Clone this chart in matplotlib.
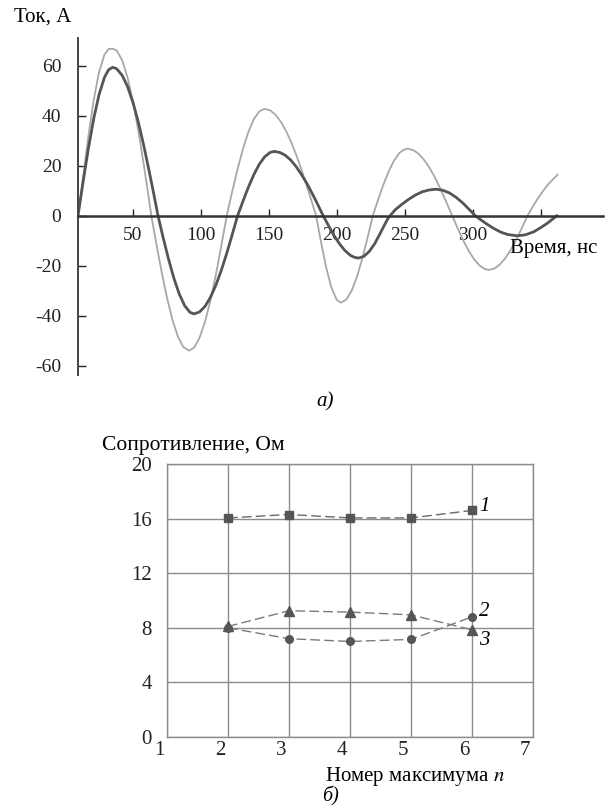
import numpy as np
import matplotlib
matplotlib.use('Agg')
import matplotlib.pyplot as plt
import matplotlib.transforms as mtransforms

plt.rcParams['font.family'] = ['Liberation Serif', 'DejaVu Serif']
plt.rcParams['mathtext.fontset'] = 'stix'
plt.rcParams['axes.unicode_minus'] = False

# --- panel a): current vs time (values read off the picture) ---
t_dark = [9.5, 13, 17, 21, 25, 29, 32, 35, 38, 42, 46, 50, 54, 58, 62, 65, 68.4,
          72, 76, 80, 84, 88, 92, 95, 99, 103, 107, 111, 115, 119, 123, 127,
          131, 135, 139, 143, 147, 151, 154, 158, 162, 166, 170, 174, 178, 182, 186, 190,
          194, 198, 202, 206, 210, 213, 216, 220, 224, 228, 232, 235, 238,
          243, 248, 253, 258, 263, 268, 273, 278, 283, 288, 293, 297, 302,
          306, 311, 316, 321, 326, 333, 339, 345, 350, 355, 359, 362]
i_dark = [0, 12.7, 26.4, 38.6, 48.4, 55.3, 58.3, 59.3, 58.7, 56.1, 51.6, 45.2, 37.2, 27.8, 17.5, 9.5, 0,
          -8.3, -17, -24.8, -31.2, -35.9, -38.6, -39.2, -38.4, -36.2, -32.6, -27.7, -21.8, -15, -7.6, 0,
          5.9, 11.5, 16.5, 20.6, 23.6, 25.3, 25.7, 25.3, 24.2, 22.3, 19.7, 16.5, 12.9, 8.8, 4.5, 0,
          -4, -7.9, -11.2, -13.9, -15.8, -16.6, -16.9, -16.2, -14.2, -11.1, -7, -3.8, -0.8,
          2.4, 4.6, 6.6, 8.3, 9.6, 10.3, 10.6, 10.2, 9.1, 7.3, 5, 2.8, 0,
          -1.6, -3.5, -5.2, -6.6, -7.5, -8, -7.6, -6.4, -4.8, -3, -1.3, 0]

t_light = [9.5, 13, 17, 21, 25, 29, 32, 35.3, 38, 42, 46, 50, 54, 58, 61, 63.5,
           67, 71, 75, 79, 83, 87, 91.2, 95, 99, 103, 107, 111, 115, 119,
           123, 127, 131, 135, 139, 143, 146.8, 151, 155, 159, 163, 167, 171, 175, 179, 182, 184.8,
           188, 192, 196, 200, 203, 207, 211, 215, 219, 223, 226.5,
           230, 234, 238, 242, 246, 249, 252, 256, 260, 264, 268, 272, 276, 280, 285,
           289, 293, 297, 301, 305, 309, 312, 316, 320, 324, 328, 332, 336, 340.4,
           344, 348, 352, 356, 360, 362.5]
i_light = [0, 14.1, 31.2, 46, 57.4, 64.4, 66.6, 66.7, 66, 62.1, 55.2, 45.6, 33.7, 20.1, 9.3, 0,
           -10.6, -22.3, -32.7, -41.5, -48.2, -52.4, -53.9, -52.7, -48.7, -42.4, -33.8, -23.6, -12, 0,
           9.6, 18.7, 26.8, 33.6, 38.6, 41.7, 42.7, 42.1, 40.3, 37.4, 33.5, 28.7, 23.1, 16.8, 10.1, 4.9, 0,
           -9.4, -20.2, -28.6, -33.6, -34.7, -33.5, -29.9, -24.2, -16.7, -8, 0,
           5.7, 12, 17.4, 21.9, 25, 26.3, 26.8, 26.3, 24.9, 22.5, 19.4, 15.6, 11.1, 6.3, 0,
           -5, -9.7, -13.9, -17.3, -19.8, -21.3, -21.6, -21.1, -19.5, -17, -13.7, -9.7, -5.2, 0,
           3.4, 6.9, 10, 12.8, 15, 16.4]

t_ticks = [50, 100, 150, 200, 250, 300, 350]
t_labels = ['50', '100', '150', '200', '250', '300', '']
i_ticks = [-60, -40, -20, 0, 20, 40, 60]

# --- panel б): resistance vs maximum number ---
n = [2, 3, 4, 5, 6]
r1 = [16.05, 16.3, 16.05, 16.05, 16.6]
r2 = [8.0, 7.2, 7.0, 7.15, 8.8]
r3 = [8.1, 9.25, 9.15, 8.95, 7.85]

fig = plt.figure(figsize=(6.16, 8.05), dpi=100)

ax = fig.add_axes([78/616, 1 - 375/805, (603 - 78)/616, (375 - 38)/805])
ax.plot(t_light, i_light, color='#a8a8a8', lw=1.3)
ax.plot(t_dark, i_dark, color='#555555', lw=2.0)
ax.set_xlim(9.5, 396)
ax.set_ylim(-63.6, 71)
for s in ['top', 'right']:
    ax.spines[s].set_visible(False)
ax.spines['bottom'].set_position(('data', 0))
ax.spines['bottom'].set_color('#333333')
ax.spines['bottom'].set_linewidth(1.8)
ax.spines['left'].set_color('#444444')
ax.spines['left'].set_linewidth(1.4)
ax.set_xticks(t_ticks)
ax.set_xticklabels(t_labels)
ax.set_yticks(i_ticks)
ax.tick_params(axis='x', direction='in', length=5, width=1, pad=8, labelsize=14, colors='#222222')
ax.tick_params(axis='y', direction='in', length=6, width=1, pad=12, labelsize=14, colors='#222222')

fig.text(14/616, 1 - 17/805, 'Ток, А', fontsize=15, va='center', ha='left')
fig.text(510/616, 1 - 249/805, 'Время, нс', fontsize=15, va='center', ha='left')
fig.text(325/616, 1 - 402/805, 'а)', fontsize=15, va='center', ha='center', style='italic')

ax2 = fig.add_axes([167/616, 1 - 737/805, (533 - 167)/616, (737 - 464)/805])
ax2.set_xlim(1, 7)
ax2.set_ylim(0, 20)
ax2.set_xticks(range(1, 8))
ax2.set_yticks(range(0, 21, 4))
ax2.grid(True, color='#8c8c8c', lw=1.0)
for s in ax2.spines.values():
    s.set_color('#8c8c8c')
    s.set_linewidth(1.0)
ax2.tick_params(length=0, labelsize=15, colors='#222222')
ax2.tick_params(axis='x', pad=3)
ax2.tick_params(axis='y', pad=11)
shift = mtransforms.ScaledTranslation(-8/100, 0, fig.dpi_scale_trans)
for lab in ax2.get_xticklabels():
    lab.set_transform(lab.get_transform() + shift)

ax2.plot(n, r1, color='#6a6a6a', lw=1.0, ls=(0, (7, 3)), marker='s', ms=6,
         mfc='#555555', mec='#555555')
ax2.plot(n, r2, color='#7a7a7a', lw=1.0, ls=(0, (7, 3)), marker='o', ms=5.5,
         mfc='#555555', mec='#555555')
ax2.plot(n, r3, color='#7a7a7a', lw=1.0, ls=(0, (7, 3)), marker='^', ms=7,
         mfc='#555555', mec='#555555')

ax2.text(6.12, 16.9, '1', fontsize=15, style='italic', va='center', ha='left')
ax2.text(6.12, 9.2, '2', fontsize=15, style='italic', va='center', ha='left')
ax2.text(6.12, 7.1, '3', fontsize=15, style='italic', va='center', ha='left')

fig.text(102/616, 1 - 445/805, 'Сопротивление, Ом', fontsize=15.5, va='center', ha='left')
fig.text(325/616, 1 - 776/805, 'Номер максимума $n$', fontsize=15, va='center', ha='left')
fig.text(331/616, 1 - 796/805, 'б)', fontsize=14.5, va='center', ha='center', style='italic')

fig.savefig('out.png', dpi=100)
